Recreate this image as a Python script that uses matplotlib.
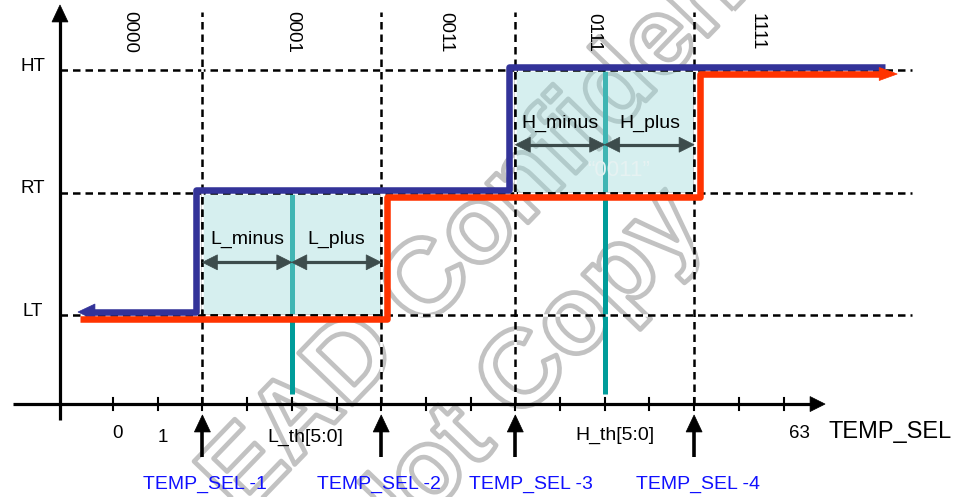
import numpy as np
import matplotlib
matplotlib.use("Agg")
import matplotlib.pyplot as plt
from matplotlib.patches import Rectangle, Polygon
from matplotlib.transforms import ScaledTranslation, IdentityTransform
import matplotlib.patheffects as pe

plt.rcParams['font.family'] = ['Liberation Sans', 'DejaVu Sans']

# ---------------- data ----------------
tick_index = np.arange(16)                       # schematic TEMP_SEL ticks
tick_label_pos = [0.11, 1.12, 15.35]
tick_label_txt = ['0', '1', '63']
level_names = ['LT', 'RT', 'HT']
level_values = [1, 2, 3]
code_labels = ['0000', '0001', '0011', '0111', '1111']
code_pos = [0.38, 4.03, 7.45, 10.76, 14.41]
sel_labels = ['TEMP_SEL -1', 'TEMP_SEL -2', 'TEMP_SEL -3', 'TEMP_SEL -4']
sel_pos = [2, 6, 9, 13]
sel_label_pos = [2.06, 5.95, 9.35, 13.09]
th_labels = ['L_th[5:0]', 'H_th[5:0]']
th_pos = [4, 11]
th_label_pos = [4.3, 11.23]
# rising (blue) and falling (red) hysteresis paths
blue_x = [-0.65, 2, 2, 9, 9, 17.4]
blue_y = [1, 1, 2, 2, 3, 3]
red_x = [-0.87, 6, 6, 13, 13, 17.41]
red_y = [1, 1, 2, 2, 3, 3]
# hysteresis windows: (x0, x1, y0, y1, centre)
windows = [(2, 6, 1, 2, 4), (9, 13, 2, 3, 11)]
span_labels = [['L_minus', 'L_plus'], ['H_minus', 'H_plus']]

# ---------------- figure ----------------
W, H = 963, 497
fig = plt.figure(figsize=(W / 100, H / 100), dpi=100)
ax = fig.add_axes([0, 0, 1, 1])
PX_X, PX_Y = 44.7, 122.5
x0px, y1px = 113, 315
ax.set_xlim(-x0px / PX_X, (W - x0px) / PX_X)
ax.set_ylim(1 - (H - y1px) / PX_Y, 1 + y1px / PX_Y)
ax.axis('off')

AXIS_Y = 0.273
AXIS_X = -1.186
FS = 14
FS2 = 13.5

def off(dx, dy):
    return ax.transData + ScaledTranslation(dx / 100, dy / 100, fig.dpi_scale_trans)

def head(tip, d, L, Wd, color, dx=0, dy=0, z=6):
    tx, ty = ax.transData.transform(tip)
    tx += dx; ty += dy
    ux, uy = d
    bx, by = tx - ux * L, ty - uy * L
    px, py = -uy, ux
    verts = [(tx, ty), (bx + px * Wd, by + py * Wd), (bx - px * Wd, by - py * Wd)]
    ax.add_patch(Polygon(verts, closed=True, transform=IdentityTransform(),
                         facecolor=color, edgecolor=color, lw=0.5, zorder=z))

# watermark (outlined)
wm = dict(rotation=46, rotation_mode='anchor', ha='left', va='baseline',
          fontsize=78, fontweight='bold', color='none', zorder=0.5,
          path_effects=[pe.Stroke(linewidth=3.4, foreground='#c2c2c2')])
ax.text(2.9, -0.66, 'EAD Confidential', **wm)
ax.text(5.8, -1.12, 'Not Copy', **wm)

# dashed guide lines
dash_kw = dict(color='black', lw=1.8, dashes=(3, 2), gapcolor='white', zorder=3.5)
for lv in level_values:
    ax.plot([AXIS_X, 17.87], [lv, lv], **dash_kw)
for sx in sel_pos:
    ax.plot([sx, sx], [AXIS_Y, 3.47], **dash_kw)

# windows
for (xa, xb, ya, yb, xc), labs in zip(windows, span_labels):
    ax.plot([xc, xc], [yb, 0.355], color='#009c9a', lw=3.6, zorder=1,
            solid_capstyle='butt')
    ax.add_patch(Rectangle((xa, ya), xb - xa, yb - ya, facecolor=(157/255, 217/255, 217/255),
                           alpha=0.41, edgecolor='none', zorder=2))
    ax.add_patch(Rectangle((xa, ya), xb - xa, yb - ya, facecolor='none',
                           edgecolor='black', lw=1.1, zorder=3))
    ay = ya + (0.43 if ya == 1 else 0.39)
    ty = ya + (0.62 if ya == 1 else 0.567)
    for (s0, s1), lab in zip([(xa, xc), (xc, xb)], labs):
        L = 15 / PX_X
        ax.plot([s0 + L * 0.8, s1 - L * 0.8], [ay, ay], color='#3d4c4c', lw=2.3,
                zorder=4, solid_capstyle='butt')
        head((s0, ay), (-1, 0), 15, 7.5, '#3d4c4c', z=4)
        head((s1, ay), (1, 0), 15, 7.5, '#3d4c4c', z=4)
        ax.text((s0 + s1) / 2, ty, lab, ha='center', va='center', fontsize=FS,
                color='black', zorder=7)
ax.text(11.3, 2.18, '\u201c0011\u201d', ha='center', va='center', fontsize=16,
        color='#e6f2f2', zorder=4)

# hysteresis paths
BL, RD = '#333399', '#ff3300'
ax.plot([blue_x[0] + 12 / PX_X] + blue_x[1:], blue_y, color=BL, lw=4.7,
        solid_joinstyle='round', solid_capstyle='butt', transform=off(-6, 3), zorder=5)
head((blue_x[0], blue_y[0]), (-1, 0), 17, 8, BL, dx=-6, dy=3, z=5)
ax.plot(red_x[:-1] + [red_x[-1] - 12 / PX_X], red_y, color=RD, lw=4.7,
        solid_joinstyle='round', solid_capstyle='butt', transform=off(6, -4), zorder=5.1)
head((red_x[-1], red_y[-1]), (1, 0), 18, 6.5, RD, dx=6, dy=-4, z=5.1)

# axes
ax.plot([-2.24, 15.93 - 12 / PX_X], [AXIS_Y, AXIS_Y], color='black', lw=2.3, zorder=6,
        solid_capstyle='butt')
head((15.93, AXIS_Y), (1, 0), 15, 7.5, 'black')
ax.plot([AXIS_X, AXIS_X], [0.143, 3.531 - 14 / PX_Y], color='black', lw=2.3, zorder=6,
        solid_capstyle='butt')
head((AXIS_X, 3.531), (0, 1), 17, 8, 'black')
for t in tick_index:
    ax.plot([t, t], [AXIS_Y - 0.049, AXIS_Y + 0.049], color='black', lw=1.5, zorder=6)

# labels
for name, lv in zip(level_names, level_values):
    ax.text(-1.79, lv + 0.03, name, ha='center', va='center', fontsize=FS2, zorder=7)
for lab, x in zip(code_labels, code_pos):
    ax.text(x, 3.31, lab, ha='center', va='center', rotation=270, fontsize=FS2, zorder=7)
for lab, x in zip(tick_label_txt, tick_label_pos):
    ax.text(x, 0.0 if lab == '1' else 0.03, lab, ha='center', va='center', fontsize=FS2, zorder=7)
for lab, x in zip(th_labels, th_label_pos):
    ax.text(x, 0.0 if lab.startswith('L') else 0.02, lab, ha='center', va='center',
            fontsize=FS, zorder=7)
ax.text(16.0, 0.045, 'TEMP_SEL', ha='left', va='center', fontsize=17, zorder=7)

# TEMP_SEL markers
for sx, lx, lab in zip(sel_pos, sel_label_pos, sel_labels):
    ax.plot([sx, sx], [-0.159, 0.184 - 14 / PX_Y], color='black', lw=2.6, zorder=6,
            solid_capstyle='butt')
    head((sx, 0.184), (0, 1), 17, 8, 'black')
    ax.text(lx, -0.38, lab, ha='center', va='center', fontsize=FS, color='#1010ff', zorder=7)

fig.savefig('out.png', dpi=100)
